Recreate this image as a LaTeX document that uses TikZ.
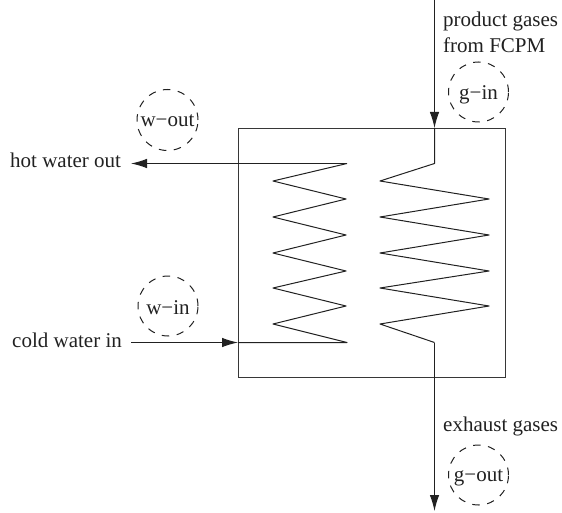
\documentclass[tikz,border=0pt]{standalone}
\usepackage{fontspec}
\setmainfont{Liberation Serif}
\usetikzlibrary{arrows.meta}
\definecolor{ink}{gray}{0.13}
\tikzset{
  x=1pt,y=-1pt,
  wire/.style={draw=ink,line width=1pt,line join=round},
  flow/.style={wire,-{Latex[length=16pt,width=9.5pt]}},
  casing/.style={draw=ink!90,line width=1.3pt},
  lbl/.style={text=ink,font=\fontsize{21}{21}\selectfont,inner sep=0pt,anchor=base west},
  disc/.style={draw=ink,line width=1pt,dash pattern=on 7.5pt off 7.5pt,circle,minimum size=#1,inner sep=0pt,text=ink,font=\fontsize{21}{21}\selectfont,text depth=0pt},
}
\begin{document}
\begin{tikzpicture}
\useasboundingbox (0,0) rectangle (562,513);
\node[casing,draw,minimum width=267pt,minimum height=249pt,inner sep=0pt,anchor=north west] (box) at (238,128) {};
% labels
\node[lbl] (hot) at (10,168) {hot water out};
\node[lbl] (cold) at (12,347) {cold water in};
\node[lbl] (prod) at (443,27) {product gases};
\node[lbl] (from) at (443,53) {from FCPM};
\node[lbl] (exh) at (443,431) {exhaust gases};
% state circles
\node[disc=61pt,text height=13pt,xshift=1pt] (wout) at (166.5,120) {w−out};
\node[disc=60pt,text height=16pt,xshift=1.5pt] (win) at (166.5,306) {w−in};
\node[disc=60pt,text height=16pt,xshift=1.5pt] (gin) at (477,92) {g−in};
\node[disc=60pt,text height=12pt,xshift=1pt] (gout) at (477.5,475) {g−out};
% free ends and junctions
\coordinate (hotend) at (131,163.5);
\coordinate (coldstart) at (131,342.5);
\coordinate (coldjoin) at (238,342.5);
\coordinate (gtop) at (434.5,0);
\coordinate (gjoin) at (434.5,128);
\coordinate (gbot) at (434.5,342.5);
\coordinate (gend) at (434.5,511);
\coordinate (wtop) at (347,163.5);
\coordinate (wbot) at (347,342.5);
\coordinate (gcoil) at (434.5,163.5);
% water coil
\draw[flow] (wtop) -- (hotend);
\draw[flow] (coldstart) -- (coldjoin);
\draw[wire] (coldjoin) -- (wbot) -- (273,324) -- (346,306) -- (273,288) -- (346,271) -- (273,253) -- (346,235) -- (273,217) -- (346,199) -- (273,181) -- (wtop);
% gas coil
\draw[flow] (gtop) -- (gjoin);
\draw[wire] (gjoin) -- (gcoil) -- (380,181) -- (489,199) -- (380,217) -- (489,235) -- (380,253) -- (489,271) -- (380,288) -- (489,306) -- (380,324) -- (gbot);
\draw[flow] (gbot) -- (gend);
\end{tikzpicture}
\end{document}
